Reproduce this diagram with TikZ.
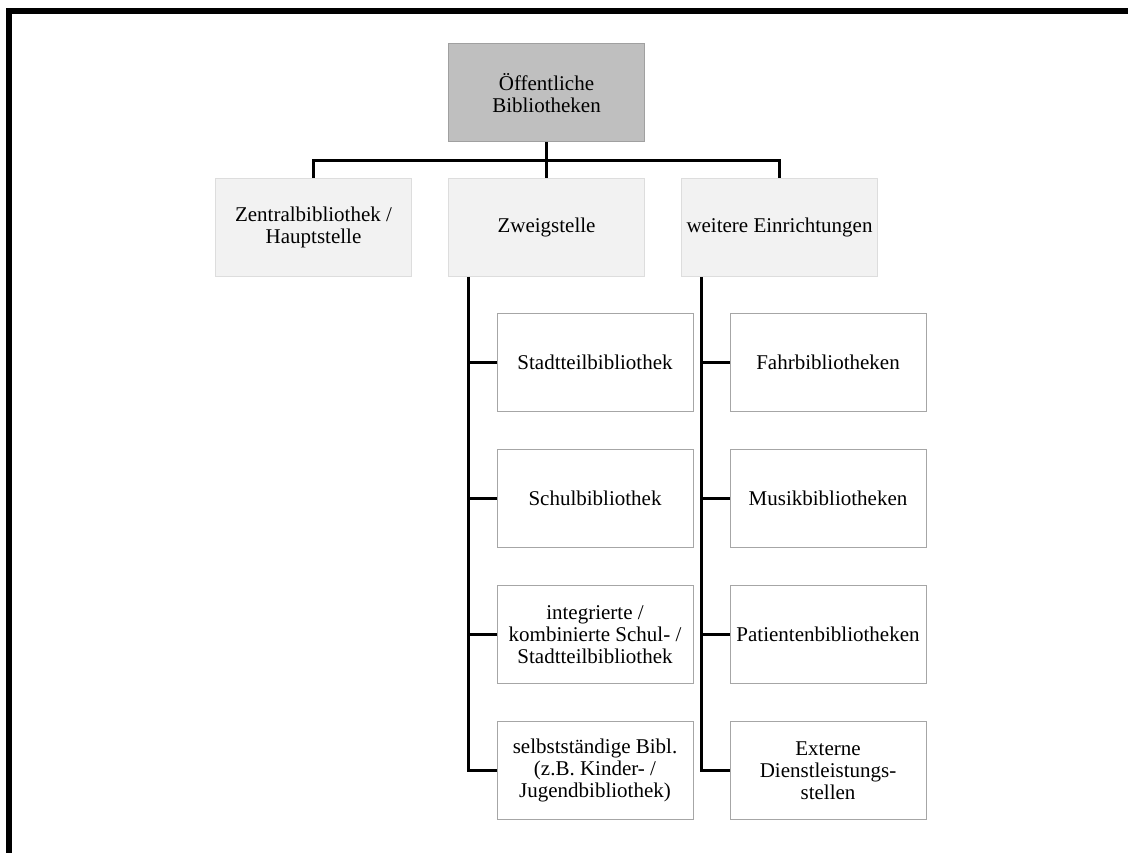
\documentclass[tikz,border=0pt]{standalone}
\usepackage{fontspec}
\setmainfont{Liberation Serif}
\usetikzlibrary{positioning, calc}
\definecolor{rootfill}{HTML}{BFBFBF}
\definecolor{rootdraw}{HTML}{A0A0A0}
\definecolor{midfill}{HTML}{F2F2F2}
\definecolor{middraw}{HTML}{DDDDDD}
\definecolor{leafdraw}{HTML}{A6A6A6}
\tikzset{orgbox/.style={rectangle,align=center,inner sep=1pt,minimum width=196pt,minimum height=98pt,font=\fontsize{21pt}{22pt}\selectfont},rootbox/.style={orgbox,fill=rootfill,draw=rootdraw,line width=1pt},midbox/.style={orgbox,fill=midfill,draw=middraw,line width=1pt},leafbox/.style={orgbox,fill=white,draw=leafdraw,line width=1pt},conn/.style={line width=3pt},frame/.style={line width=6pt}}

\begin{document}
\begin{tikzpicture}[x=1pt, y=-1pt, node distance=37pt and 36pt]
\useasboundingbox (0,0) rectangle (1128,853);
\draw[frame] (9,853) -- (9,11) -- (1128,11);
\node[rootbox] (oeb) at (546.5,93) {Öffentliche\\Bibliotheken};
\node[midbox] (zweig) at (546.5,227.5) {Zweigstelle};
\node[midbox, left=of zweig] (zentral) {Zentralbibliothek /\\Hauptstelle};
\node[midbox, right=of zweig] (weitere) {weitere Einrichtungen};
\node[leafbox, below=36pt of zweig, xshift=48.5pt] (stadt) {Stadtteilbibliothek};
\node[leafbox, below=of stadt] (schul) {Schulbibliothek};
\node[leafbox, below=of schul] (integ) {integrierte /\\kombinierte Schul- /\\Stadtteilbibliothek};
\node[leafbox, below=of integ] (selbst) {selbstständige Bibl.\\(z.B. Kinder- /\\Jugendbibliothek)};
\node[leafbox, below=36pt of weitere, xshift=48.5pt] (fahr) {Fahrbibliotheken};
\node[leafbox, below=of fahr] (musik) {Musikbibliotheken};
\node[leafbox, below=of musik] (patient) {Patientenbibliotheken};
\node[leafbox, below=of patient] (extern) {Externe\\Dienstleistungs-\\stellen};
% top level
\coordinate (bus) at ($(oeb.south)!0.5!(zweig.north)$);
\draw[conn] (oeb.south) -- (zweig.north);
\draw[conn] (zentral.north) |- (bus) -| (weitere.north);
% Zweigstelle
\coordinate (zs) at ([xshift=20pt]zweig.south west);
\draw[conn] (zs) |- (selbst.west);
\draw[conn] (zs |- stadt.west) -- (stadt.west);
\draw[conn] (zs |- schul.west) -- (schul.west);
\draw[conn] (zs |- integ.west) -- (integ.west);
% weitere Einrichtungen
\coordinate (ws) at ([xshift=20pt]weitere.south west);
\draw[conn] (ws) |- (extern.west);
\draw[conn] (ws |- fahr.west) -- (fahr.west);
\draw[conn] (ws |- musik.west) -- (musik.west);
\draw[conn] (ws |- patient.west) -- (patient.west);
\end{tikzpicture}
\end{document}
